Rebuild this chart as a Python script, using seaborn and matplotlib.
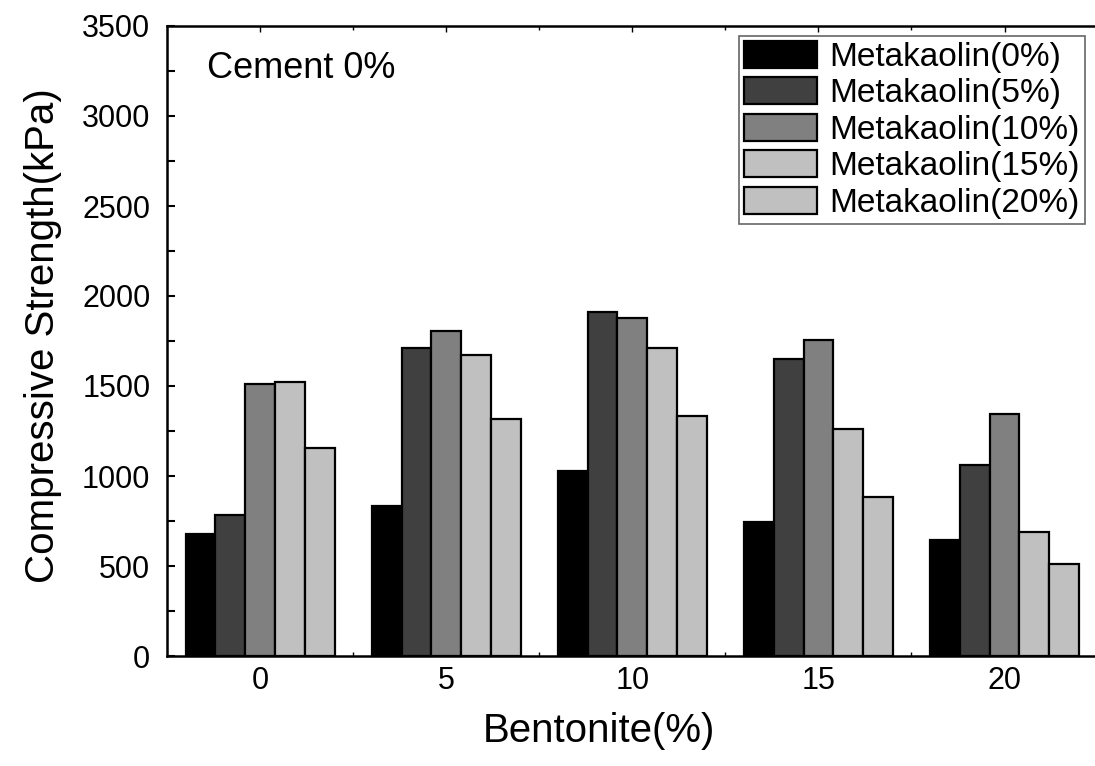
import pandas as pd
import matplotlib
matplotlib.use("Agg")
import matplotlib.pyplot as plt
import seaborn as sns
from matplotlib.ticker import MultipleLocator, FixedLocator


bentonite = ["0", "5", "10", "15", "20"]
metakaolin = ["Metakaolin(0%)", "Metakaolin(5%)", "Metakaolin(10%)",
              "Metakaolin(15%)", "Metakaolin(20%)"]

mk0 = [678, 835, 1030, 743, 643]
mk5 = [783, 1713, 1909, 1648, 1063]
mk10 = [1513, 1807, 1876, 1757, 1344]
mk15 = [1524, 1674, 1711, 1259, 689]
mk20 = [1157, 1315, 1333, 885, 511]

colors = ["#000000", "#404040", "#808080", "#c0c0c0", "#c0c0c0"]


def main():
    series = [mk0, mk5, mk10, mk15, mk20]
    rows = []
    for name, vals in zip(metakaolin, series):
        for b, v in zip(bentonite, vals):
            rows.append({"Bentonite": b, "Metakaolin": name, "Strength": v})
    df = pd.DataFrame(rows)

    sns.set_style("ticks")
    plt.rcParams["font.family"] = ["Liberation Sans", "DejaVu Sans"]
    for k in ["text.color", "axes.labelcolor", "xtick.color", "ytick.color"]:
        plt.rcParams[k] = "black"

    fig = plt.figure(figsize=(10.95, 7.66), dpi=100)
    ax = fig.add_axes([167 / 1095, 110 / 766, 930.6 / 1095, 630 / 766])

    sns.barplot(data=df, x="Bentonite", y="Strength", hue="Metakaolin",
                order=bentonite, hue_order=metakaolin, palette=colors,
                edgecolor="black", linewidth=1.6, width=0.8, saturation=1,
                errorbar=None, ax=ax)

    ax.set_xlim(-0.5, 4.5)
    ax.set_ylim(0, 3500)
    ax.yaxis.set_major_locator(MultipleLocator(500))
    ax.yaxis.set_minor_locator(MultipleLocator(250))
    ax.xaxis.set_minor_locator(FixedLocator([0.5, 1.5, 2.5, 3.5]))

    for s in ax.spines.values():
        s.set_linewidth(1.8)
        s.set_color("black")
        s.set_visible(True)
    ax.spines["right"].set_visible(False)

    ax.tick_params(axis="y", which="major", direction="in", length=6, width=1.5,
                   labelsize=22, pad=12, right=False)
    ax.tick_params(axis="y", which="minor", direction="in", length=6, width=1.5,
                   right=False)
    ax.tick_params(axis="x", which="major", direction="in", length=4, width=1,
                   labelsize=22, pad=7, top=True)
    ax.tick_params(axis="x", which="minor", direction="in", length=3, width=1,
                   top=True)

    ax.set_xlabel("Bentonite(%)", fontsize=29)
    ax.set_ylabel("Compressive Strength(kPa)", fontsize=29)
    ax.xaxis.set_label_coords(0.464, -0.089)
    ax.yaxis.set_label_coords(-0.113, 0.508)
    ax.xaxis.label.set_va("top")

    handles, labels = ax.get_legend_handles_labels()
    if ax.get_legend() is not None:
        ax.get_legend().remove()
    leg = fig.legend(handles, labels, loc="upper right",
                     bbox_to_anchor=(1085 / 1095, 1 - 36 / 766),
                     fontsize=24, frameon=True, fancybox=False,
                     handlelength=2.2, handleheight=0.85, labelspacing=0.14,
                     handletextpad=0.38, borderpad=0.15, borderaxespad=0)
    leg.get_frame().set_edgecolor("#404040")
    leg.get_frame().set_linewidth(1.2)

    fig.text(207 / 1095, 1 - 69 / 766, "Cement 0%", fontsize=26,
             ha="left", va="center")

    fig.savefig("out.png", dpi=100)


if __name__ == "__main__":
    main()
